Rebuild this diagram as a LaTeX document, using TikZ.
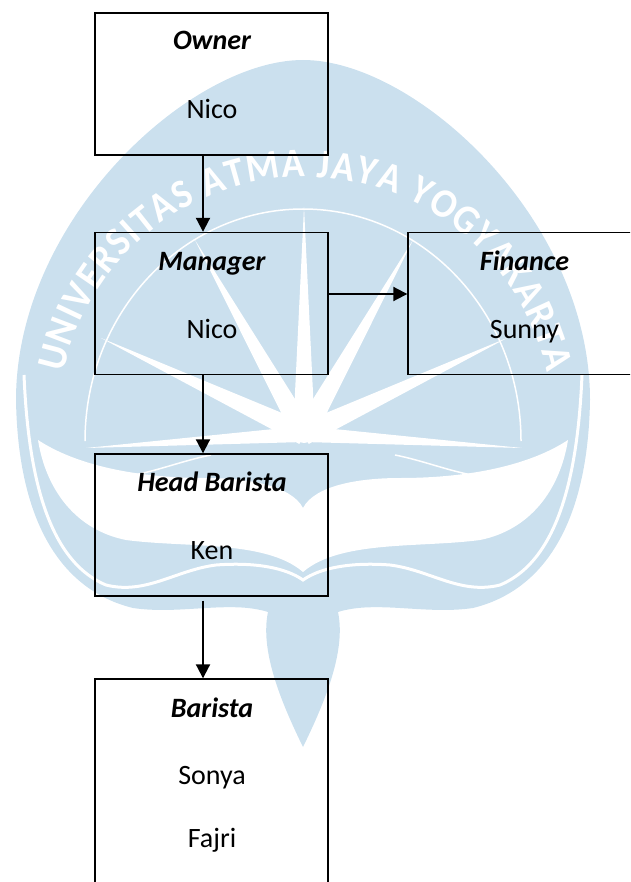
\documentclass[tikz,border=0pt]{standalone}
\usepackage{fontspec}
\setmainfont{Carlito}
\newfontfamily\wmf{Carlito}[FakeStretch=0.92]
\usetikzlibrary{arrows.meta,calc,decorations.text}
\definecolor{wm}{RGB}{203,224,238}
\newcommand\wmstyle{\wmf\bfseries\fontsize{41}{41}\selectfont\color{white}}
\begin{document}
\begin{tikzpicture}[x=1pt,y=-1pt,
  box/.style={draw=black,line width=1.4pt,minimum width=233pt,minimum height=142pt,inner sep=0pt},
  ttl/.style={anchor=base,font=\fontsize{28}{34}\selectfont\bfseries\itshape},
  nm/.style={anchor=base,font=\fontsize{28}{34}\selectfont},
  arr/.style={line width=2pt,-{Triangle[width=14pt,length=14pt]}},
  wline/.style={draw=white,line width=1.5pt},
  ray/.style={fill=white}]
\useasboundingbox (0,0) rectangle (630,882);
\clip (0,0) rectangle (630,882);
% ---------------- watermark ----------------
\fill[wm] (303,60) .. controls (190,60) and (16,220) .. (16,400)
  .. controls (18,520) and (60,590) .. (133,608)
  .. controls (180,615) and (230,600) .. (268,612)
  .. controls (260,650) and (280,700) .. (303,747)
  .. controls (326,700) and (346,650) .. (338,612)
  .. controls (376,600) and (426,615) .. (473,608)
  .. controls (546,590) and (588,520) .. (590,400)
  .. controls (590,220) and (416,60) .. (303,60) -- cycle;
% book pages
\fill[white] (303,508) .. controls (315,485) and (360,478) .. (400,478)
  .. controls (470,478) and (530,465) .. (568,440)
  .. controls (560,490) and (530,530) .. (480,540)
  .. controls (420,548) and (340,540) .. (303,572) -- cycle;
\fill[white] (303,508) .. controls (291,485) and (246,478) .. (206,478)
  .. controls (136,478) and (76,465) .. (38,440)
  .. controls (46,490) and (76,530) .. (126,540)
  .. controls (186,548) and (266,540) .. (303,572) -- cycle;
% inner edge of outer band
\draw[draw=white,line width=3pt] (582,375) .. controls (578,470) and (560,560) .. (500,585)
  .. controls (460,595) and (430,570) .. (390,565)
  .. controls (350,562) and (320,568) .. (303,580)
  .. controls (286,568) and (256,562) .. (216,565)
  .. controls (176,570) and (146,595) .. (106,585)
  .. controls (46,560) and (28,470) .. (24,375);
% thin curves in upper band
\draw[wline] (395,455) .. controls (430,462) and (460,476) .. (495,478);
\draw[wline] (211,455) .. controls (176,462) and (146,476) .. (111,478);
% star
\coordinate (C) at (304,434);
\foreach \t in {(304,207),(195,240),(413,240),(101,338),(507,338)}{
  \fill[ray] \t -- ($(C)!11pt!90:\t$) -- ($(C)!11pt!-90:\t$) -- cycle;
}
\foreach \t in {(86,448),(522,448)}{
  \fill[ray] \t -- ($(C)!8pt!90:\t$) -- ($(C)!8pt!-90:\t$) -- cycle;
}
\fill[white] (C) circle[radius=9];
\draw[wline] (303,441) ++(180:218) arc[start angle=180,end angle=360,x radius=218,y radius=232];
% arc text
\path[decorate,decoration={text along path,text align=fit to path,
  text={|\wmstyle|UNIVERSITAS ATMA JAYA YOGYAKARTA}}]
  (305,424) ++(-168:247) arc[start angle=-168,end angle=-12,radius=247];
% ---------------- chart ----------------
\node[box] (owner) at (211.5,84) {};
\node[box] (manager) at (211.5,303.5) {};
\node[box] (finance) at (524.5,303.5) {};
\node[box] (headb) at (211.5,525) {};
\node[box,minimum height=240pt] (barista) at (211.5,799) {};
\node[ttl] (ownerT) at (212,50) {Owner};
\node[nm] (ownerN) at (212,119) {Nico};
\node[ttl] (managerT) at (212,270) {Manager};
\node[nm] (managerN) at (212,338) {Nico};
\node[ttl] (financeT) at (524.5,270) {Finance};
\node[nm] (financeN) at (524.5,338) {Sunny};
\node[ttl] (headbT) at (212,491) {Head Barista};
\node[nm] (headbN) at (212,559) {Ken};
\node[ttl] (baristaT) at (212,717) {Barista};
\node[nm] (baristaN1) at (212,784) {Sonya};
\node[nm] (baristaN2) at (212,847) {Fajri};
\draw[arr] ([xshift=-8.5pt]owner.south) -- ([xshift=-8.5pt]manager.north);
\draw[arr] ([yshift=9.5pt]manager.east) -- ([yshift=9.5pt]finance.west);
\draw[arr] ([xshift=-8.5pt]manager.south) -- ([xshift=-8.5pt]headb.north);
\draw[arr,shorten <=4pt] ([xshift=-8.5pt]headb.south) -- ([xshift=-8.5pt]barista.north);
\end{tikzpicture}
\end{document}
